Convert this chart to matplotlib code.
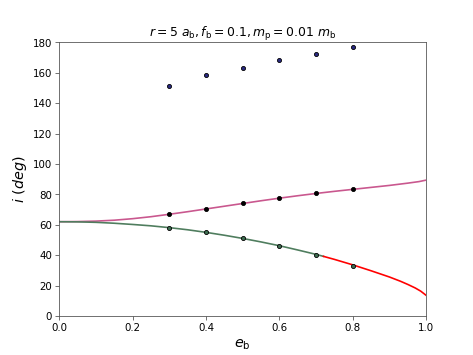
import matplotlib.pyplot as plt
import numpy as np

# curves
e_curve = [0.0, 0.05, 0.1, 0.15, 0.2, 0.25, 0.3, 0.35, 0.4, 0.45, 0.5, 0.55, 0.6, 0.65, 0.7, 0.75, 0.8, 0.85, 0.9, 0.95, 0.98, 1.0]
i_pro = [62.0, 62.1, 62.4, 63.0, 64.0, 65.3, 66.9, 68.6, 70.4, 72.2, 74.0, 75.8, 77.5, 79.1, 80.6, 82.0, 83.3, 84.6, 85.9, 87.4, 88.4, 89.4]
e_low = [0.0, 0.05, 0.1, 0.15, 0.2, 0.25, 0.3, 0.35, 0.4, 0.45, 0.5, 0.55, 0.6, 0.65, 0.7, 0.72]
i_low = [62.0, 61.9, 61.6, 61.0, 60.2, 59.3, 58.1, 56.7, 55.0, 53.1, 51.0, 48.7, 46.2, 43.4, 40.5, 39.2]
e_red = [0.72, 0.75, 0.8, 0.85, 0.9, 0.93, 0.95, 0.97, 0.985, 1.0]
i_red = [39.2, 37.2, 33.6, 29.7, 25.6, 22.8, 20.7, 18.4, 16.3, 13.5]

# simulation points
e_pts = [0.3, 0.4, 0.5, 0.6, 0.7, 0.8]
i_retro = [151.5, 158.5, 163.3, 168.5, 172.5, 177.2]
i_upper = [67.0, 70.6, 74.1, 77.5, 80.6, 83.3]
i_lower = [58.0, 55.1, 51.2, 46.3, 40.1, 33.0]

fig, ax = plt.subplots(figsize=(6.4, 4.8), dpi=74)
ax.plot(e_curve, i_pro, color='#c9578e', lw=1.6, zorder=1)
ax.plot(e_low, i_low, color='#4f7d5e', lw=1.6, zorder=1)
ax.plot(e_red, i_red, color='red', lw=1.6, zorder=1)
ax.scatter(e_pts, i_retro, s=16, color='#2a2a80', edgecolors='black', linewidths=0.8, zorder=3)
ax.scatter(e_pts, i_upper, s=16, color='black', edgecolors='black', linewidths=0.8, zorder=3)
ax.scatter(e_pts, i_lower, s=16, color='#3f6e52', edgecolors='black', linewidths=0.8, zorder=3)

ax.set_xlim(0, 1)
ax.set_ylim(0, 180)
ax.set_xlabel(r'$e_{\rm b}$', fontsize=14)
ax.set_ylabel(r'$i\ (deg)$', fontsize=14)
ax.set_title(r'$r = 5\ a_{\rm b}, f_{\rm b} = 0.1, m_{\rm p} = 0.01\ m_{\rm b}$', fontsize=12)
for s in ax.spines.values():
    s.set_color('#555555')
ax.tick_params(color='#555555')

plt.savefig('out.png')
